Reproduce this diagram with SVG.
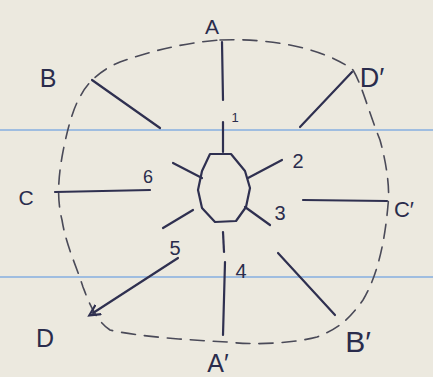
<svg xmlns="http://www.w3.org/2000/svg" width="433" height="377" viewBox="0 0 433 377">
<style>
.ink{stroke:#2f3050;stroke-width:2.2;fill:none;stroke-linecap:round;stroke-linejoin:round}
.dash{stroke:#4a4a58;stroke-width:1.6;fill:none;stroke-dasharray:14 9;stroke-linecap:round}
.rule{stroke:#9fbde0;stroke-width:2}
.lbl{font-family:"Liberation Sans",Arial,sans-serif;fill:#2a2c4c;font-weight:normal}
</style>
<defs>
<marker id="ah" markerWidth="6" markerHeight="6" refX="3" refY="3" orient="auto" markerUnits="strokeWidth">
<path d="M0,0.5 L5,3 L0,5.5" fill="none" stroke="#2f3050" stroke-width="1"/>
</marker>
</defs>
<rect width="433" height="377" fill="#ece9df"/>
<line class="rule" x1="0" y1="130" x2="433" y2="130"/>
<line class="rule" x1="0" y1="277" x2="433" y2="277"/>
<path class="dash" d="M220,40 C260,38 320,45 353,70 C362,85 368,110 380,140 C387,165 390,190 388,205 C385,240 378,275 363,300 C350,318 340,328 317,337 C290,344 250,345 227,342 C190,340 140,337 110,330 C95,320 88,300 83,287 C76,265 66,245 62,220 C57,200 58,180 62,157 C66,135 72,110 80,97 C88,80 105,68 120,62 C145,53 180,43 220,40"/>
<g id="connectors">
<line class="ink" x1="222" y1="42" x2="223" y2="100"/>
<line class="ink" x1="223" y1="122" x2="223" y2="152"/>
<line class="ink" x1="223" y1="232" x2="224" y2="252"/>
<line class="ink" x1="225" y1="262" x2="223" y2="335"/>
<line class="ink" x1="92" y1="80" x2="160" y2="128"/>
<line class="ink" x1="352" y1="72" x2="300" y2="127"/>
<line class="ink" x1="55" y1="192" x2="150" y2="190"/>
<line class="ink" x1="303" y1="200" x2="387" y2="201"/>
<line class="ink" x1="178" y1="258" x2="93" y2="313" marker-end="url(#ah)"/>
<line class="ink" x1="278" y1="253" x2="335" y2="315"/>
<line class="ink" x1="173" y1="163" x2="202" y2="178"/>
<line class="ink" x1="248" y1="178" x2="282" y2="160"/>
<line class="ink" x1="245" y1="207" x2="270" y2="225"/>
<line class="ink" x1="193" y1="210" x2="163" y2="228"/>
</g>
<g id="hub">
<path class="ink" d="M210,154 L231,154 L245,171 L250,188 L246,207 L236,221 L215,222 L202,208 L198,190 L202,171 Z" stroke-width="1.8"/>
</g>
<g id="A"><text class="lbl" x="212" y="34" font-size="21" text-anchor="middle">A</text></g>
<g id="B"><text class="lbl" x="48" y="87" font-size="25" text-anchor="middle">B</text></g>
<g id="Dp"><text class="lbl" x="372" y="87" font-size="27" text-anchor="middle">D′</text></g>
<g id="C"><text class="lbl" x="26" y="205" font-size="21" text-anchor="middle">C</text></g>
<g id="Cp"><text class="lbl" x="404" y="217" font-size="22" text-anchor="middle">C′</text></g>
<g id="D"><text class="lbl" x="45" y="347" font-size="25" text-anchor="middle">D</text></g>
<g id="Ap"><text class="lbl" x="218" y="372" font-size="25" text-anchor="middle">A′</text></g>
<g id="Bp"><text class="lbl" x="358" y="352" font-size="30" text-anchor="middle">B′</text></g>
<g id="n1"><text class="lbl" x="235" y="122" font-size="13" text-anchor="middle">1</text></g>
<g id="n2"><text class="lbl" x="298" y="168" font-size="20" text-anchor="middle">2</text></g>
<g id="n3"><text class="lbl" x="280" y="220" font-size="20" text-anchor="middle">3</text></g>
<g id="n4"><text class="lbl" x="241" y="278" font-size="20" text-anchor="middle">4</text></g>
<g id="n5"><text class="lbl" x="175" y="255" font-size="20" text-anchor="middle">5</text></g>
<g id="n6"><text class="lbl" x="148" y="183" font-size="18" text-anchor="middle">6</text></g>
</svg>
